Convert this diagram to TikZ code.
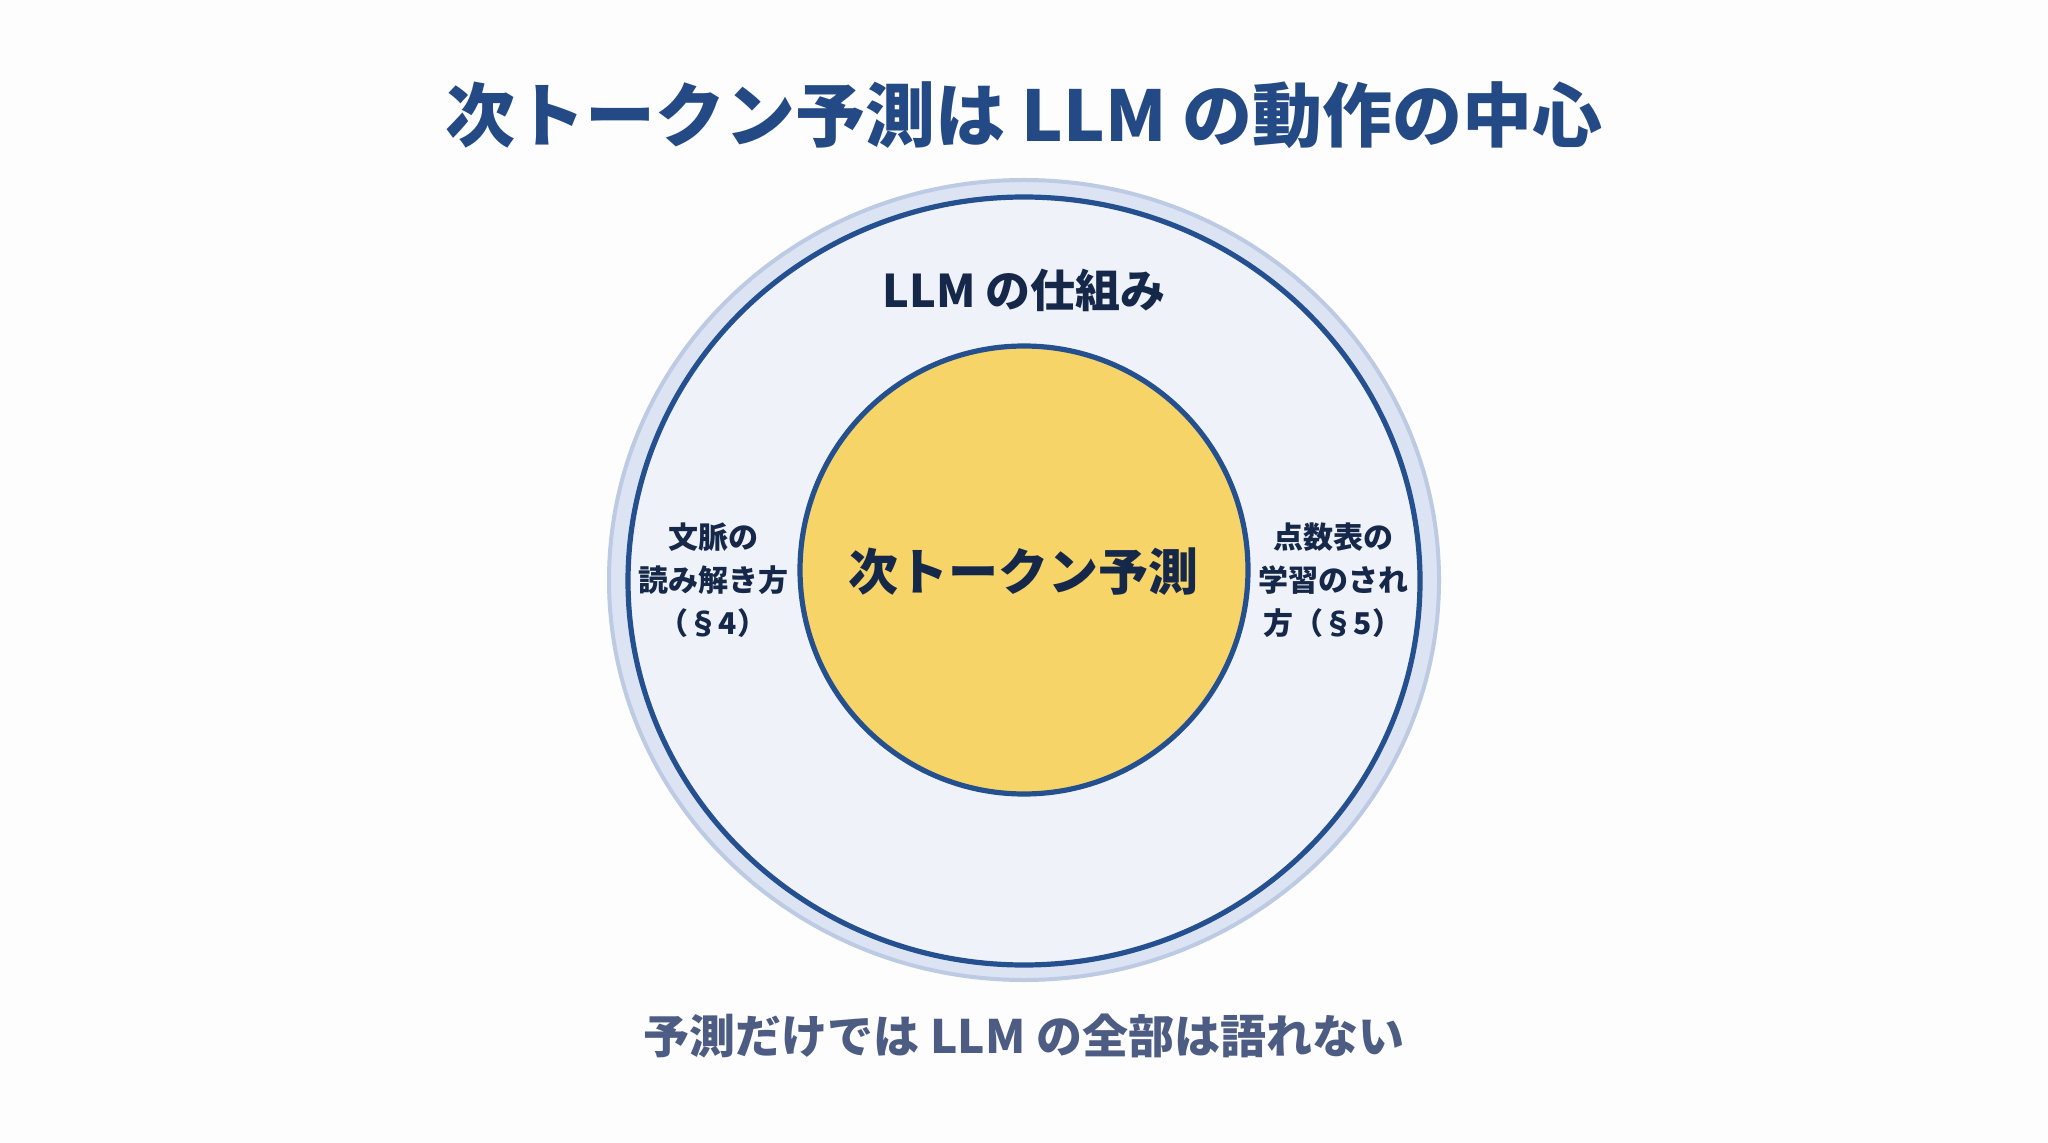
\documentclass[tikz,border=0pt]{standalone}
\usepackage{fontspec}
\setmainfont{Noto Sans CJK JP}
\definecolor{bgc}{HTML}{FDFDFD}
\definecolor{titlec}{HTML}{244A85}
\definecolor{navy}{HTML}{16284A}
\definecolor{ringc}{HTML}{25508F}
\definecolor{haloc}{HTML}{DCE4F4}
\definecolor{haloedge}{HTML}{BCCAE4}
\definecolor{innerbg}{HTML}{EFF3F9}
\definecolor{yel}{HTML}{F7D468}
\definecolor{subc}{HTML}{4D5C82}
\tikzset{
  title/.style={text=titlec, font=\fontsize{35}{42}\selectfont\bfseries},
  ringlabel/.style={text=navy, font=\fontsize{22.5}{27}\selectfont\bfseries},
  corelabel/.style={text=navy, font=\fontsize{25}{30}\selectfont\bfseries},
  sidelabel/.style={text=navy, align=center, font=\fontsize{15}{21.5}\selectfont\bfseries},
  subtitle/.style={text=subc, font=\fontsize{23}{28}\selectfont\bfseries},
}
\begin{document}
\begin{tikzpicture}[x=0.5pt,y=-0.5pt]
\useasboundingbox (0,0) rectangle (2048,1143);
\fill[bgc] (0,0) rectangle (2048,1143);
% halo ring
\filldraw[fill=haloc, draw=haloedge, line width=2pt] (1024,580) ellipse [x radius=415, y radius=400];
% outer ellipse
\filldraw[fill=innerbg, draw=ringc, line width=2.6pt] (1024,581) ellipse [x radius=396, y radius=384];
% inner circle
\filldraw[fill=yel, draw=ringc, line width=2.6pt] (1024,570) circle [radius=224];
% texts
\node[title] (ttl) at (1024,115) {次トークン予測は LLM の動作の中心};
\node[ringlabel] (ring) at (1024,290) {LLM の仕組み};
\node[corelabel] (core) at (1023,572) {次トークン予測};
\node[sidelabel] (left) at (713,580) {文脈の\\読み解き方\\（§4）};
\node[sidelabel] (right) at (1333,580) {点数表の\\学習のされ\\方（§5）};
\node[subtitle] (sub) at (1024,1036) {予測だけでは LLM の全部は語れない};
\end{tikzpicture}
\end{document}
